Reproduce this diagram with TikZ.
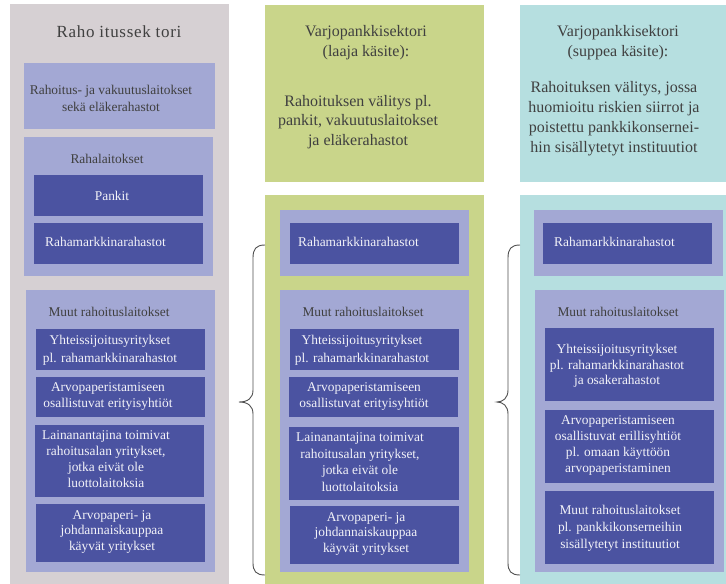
\documentclass[tikz,border=0pt]{standalone}
\usepackage{fontspec}
\setmainfont{Liberation Serif}
\definecolor{gcol}{HTML}{D6D0D3}
\definecolor{lav}{HTML}{A3A8D4}
\definecolor{dblue}{HTML}{4B53A1}
\definecolor{grn}{HTML}{C9D58A}
\definecolor{cyn}{HTML}{B6DFE0}
\definecolor{tgray}{HTML}{404040}
\definecolor{twhite}{HTML}{F2F2F8}
\definecolor{brc}{HTML}{505050}
\newcommand\bx[6]{\node[boxbase,#6,minimum width={(#4-#2)*1pt},minimum height={(#5-#3)*1pt}] (#1) at (#2,#3) {};}
\tikzset{
  boxbase/.style={rectangle,draw=none,inner sep=0pt,outer sep=0pt,anchor=north west},
  colgray/.style={fill=gcol},
  collav/.style={fill=lav},
  coldark/.style={fill=dblue},
  colgrn/.style={fill=grn},
  colcyn/.style={fill=cyn},
  bigtxt/.style={inner sep=0pt,align=center,text=tgray,font=\fontsize{16}{20}\selectfont},
  lbltxt/.style={inner sep=0pt,align=center,text=tgray,font=\fontsize{13.4}{17}\selectfont},
  wtxt/.style={inner sep=0pt,align=center,text=twhite,font=\fontsize{13.4}{16.5}\selectfont},
  bracestyle/.style={draw=brc,line width=0.9pt}
}
\begin{document}
\begin{tikzpicture}[x=1pt,y=-1pt]
\useasboundingbox (0,0) rectangle (726,584);
% ---------------- left column
\bx{bgL}{10}{4}{229}{584}{colgray}
\node[bigtxt,font=\fontsize{17}{20}\selectfont\addfontfeature{LetterSpace=4}] (titleL) at (119,32) {Raho itussek tori};
\bx{b1L}{24}{63}{215}{129}{collav}
\node[lbltxt] (b1Lt) at (111,98.5) {Rahoitus- ja vakuutuslaitokset\\sekä eläkerahastot};
\bx{b2L}{24}{137}{213}{276}{collav}
\node[lbltxt] (b2Lt) at (107,159) {Rahalaitokset};
\bx{pkL}{34}{175}{203}{216}{coldark}
\node[wtxt] (pkLt) at (112,196) {Pankit};
\bx{rmL}{34}{223}{203}{264}{coldark}
\node[wtxt,anchor=west] (rmLt) at (45,242) {Rahamarkkinarahastot};
\bx{b3L}{26}{290}{215}{572}{collav}
\node[lbltxt] (b3Lt) at (109,312) {Muut rahoituslaitokset};
\bx{yL}{36}{329}{205}{370}{coldark}
\node[wtxt,font=\fontsize{13.4}{18}\selectfont] (yLt) at (110,350) {Yhteissijoitusyritykset\\pl. rahamarkkinarahastot};
\bx{aL}{36}{377}{205}{417}{coldark}
\node[wtxt] (aLt) at (108,396.5) {Arvopaperistamiseen\\osallistuvat erityisyhtiöt};
\bx{lL}{35}{425}{204}{497}{coldark}
\node[wtxt,font=\fontsize{13.4}{16}\selectfont] (lLt) at (106,459) {Lainanantajina toimivat\\rahoitusalan yritykset,\\jotka eivät ole\\luottolaitoksia};
\bx{apL}{36}{504}{205}{562}{coldark}
\node[wtxt,font=\fontsize{13.4}{15.5}\selectfont] (apLt) at (112,532) {Arvopaperi- ja\\johdannaiskauppaa\\käyvät yritykset};
% ---------------- middle column
\bx{topM}{265}{5}{484}{182}{colgrn}
\node[bigtxt] (topMt1) at (366,43) {Varjopankkisektori\\(laaja käsite):};
\node[bigtxt,font=\fontsize{16}{19.5}\selectfont] (topMt2) at (358,122) {Rahoituksen välitys pl.\\pankit, vakuutuslaitokset\\ja eläkerahastot};
\bx{botM}{265}{195}{484}{584}{colgrn}
\bx{rmoM}{280}{210}{469}{276}{collav}
\bx{rmM}{290}{223}{459}{264}{coldark}
\node[wtxt,anchor=west] (rmMt) at (298,242) {Rahamarkkinarahastot};
\bx{b3M}{280}{290}{469}{572}{collav}
\node[lbltxt] (b3Mt) at (363,312) {Muut rahoituslaitokset};
\bx{yM}{290}{329}{459}{370}{coldark}
\node[wtxt,font=\fontsize{13.4}{18}\selectfont] (yMt) at (362,350) {Yhteissijoitusyritykset\\pl. rahamarkkinarahastot};
\bx{aM}{289}{377}{458}{417}{coldark}
\node[wtxt] (aMt) at (364,396.5) {Arvopaperistamiseen\\osallistuvat erityisyhtiöt};
\bx{lM}{289}{427}{459}{500}{coldark}
\node[wtxt,font=\fontsize{13.4}{16.5}\selectfont] (lMt) at (360,462) {Lainanantajina toimivat\\rahoitusalan yritykset,\\jotka eivät ole\\luottolaitoksia};
\bx{apM}{290}{506}{459}{564}{coldark}
\node[wtxt,font=\fontsize{13.4}{15.5}\selectfont] (apMt) at (366,534) {Arvopaperi- ja\\johdannaiskauppaa\\käyvät yritykset};
% ---------------- right column
\bx{topR}{520}{5}{726}{182}{colcyn}
\node[bigtxt] (topRt1) at (618,43) {Varjopankkisektori\\(suppea käsite):};
\node[bigtxt] (topRt2) at (614,119) {Rahoituksen välitys, jossa\\huomioitu riskien siirrot ja\\poistettu pankkikonsernei-\\hin sisällytetyt instituutiot};
\bx{botR}{520}{195}{726}{584}{colcyn}
\bx{rmoR}{534}{210}{723}{276}{collav}
\bx{rmR}{543}{223}{712}{264}{coldark}
\node[wtxt,anchor=west] (rmRt) at (554,242) {Rahamarkkinarahastot};
\bx{b3R}{535}{290}{724}{572}{collav}
\node[lbltxt] (b3Rt) at (618,312) {Muut rahoituslaitokset};
\bx{yR}{545}{328}{714}{401}{coldark}
\node[wtxt,font=\fontsize{13.4}{15.7}\selectfont] (yRt) at (617,366) {Yhteissijoitusyritykset\\pl. rahamarkkinarahastot\\ja osakerahastot};
\bx{aR}{545}{410}{714}{483}{coldark}
\node[wtxt,font=\fontsize{13.4}{15.7}\selectfont] (aRt) at (618,445.5) {Arvopaperistamiseen\\osallistuvat erillisyhtiöt\\pl. omaan käyttöön\\arvopaperistaminen};
\bx{mR}{545}{491}{714}{564}{coldark}
\node[wtxt,font=\fontsize{13.4}{17}\selectfont] (mRt) at (620,528) {Muut rahoituslaitokset\\pl. pankkikonserneihin\\sisällytetyt instituutiot};
% ---------------- braces
\coordinate (bMtop) at (265,245);
\coordinate (bMtip) at (239,402);
\coordinate (bMbot) at (265,575);
\draw[bracestyle] (bMtop) .. controls (256,245) and (253,249) .. (253,258) -- (253,390)
  .. controls (253,398) and (248,402) .. (bMtip)
  .. controls (248,402) and (253,406) .. (253,414) -- (253,563)
  .. controls (253,571) and (256,575) .. (bMbot);
\coordinate (bRtop) at (520,245);
\coordinate (bRtip) at (497,402);
\coordinate (bRbot) at (520,575);
\draw[bracestyle] (bRtop) .. controls (511,245) and (508,249) .. (508,258) -- (508,390)
  .. controls (508,398) and (503,402) .. (bRtip)
  .. controls (503,402) and (508,406) .. (508,414) -- (508,563)
  .. controls (508,571) and (511,575) .. (bRbot);
\end{tikzpicture}
\end{document}
